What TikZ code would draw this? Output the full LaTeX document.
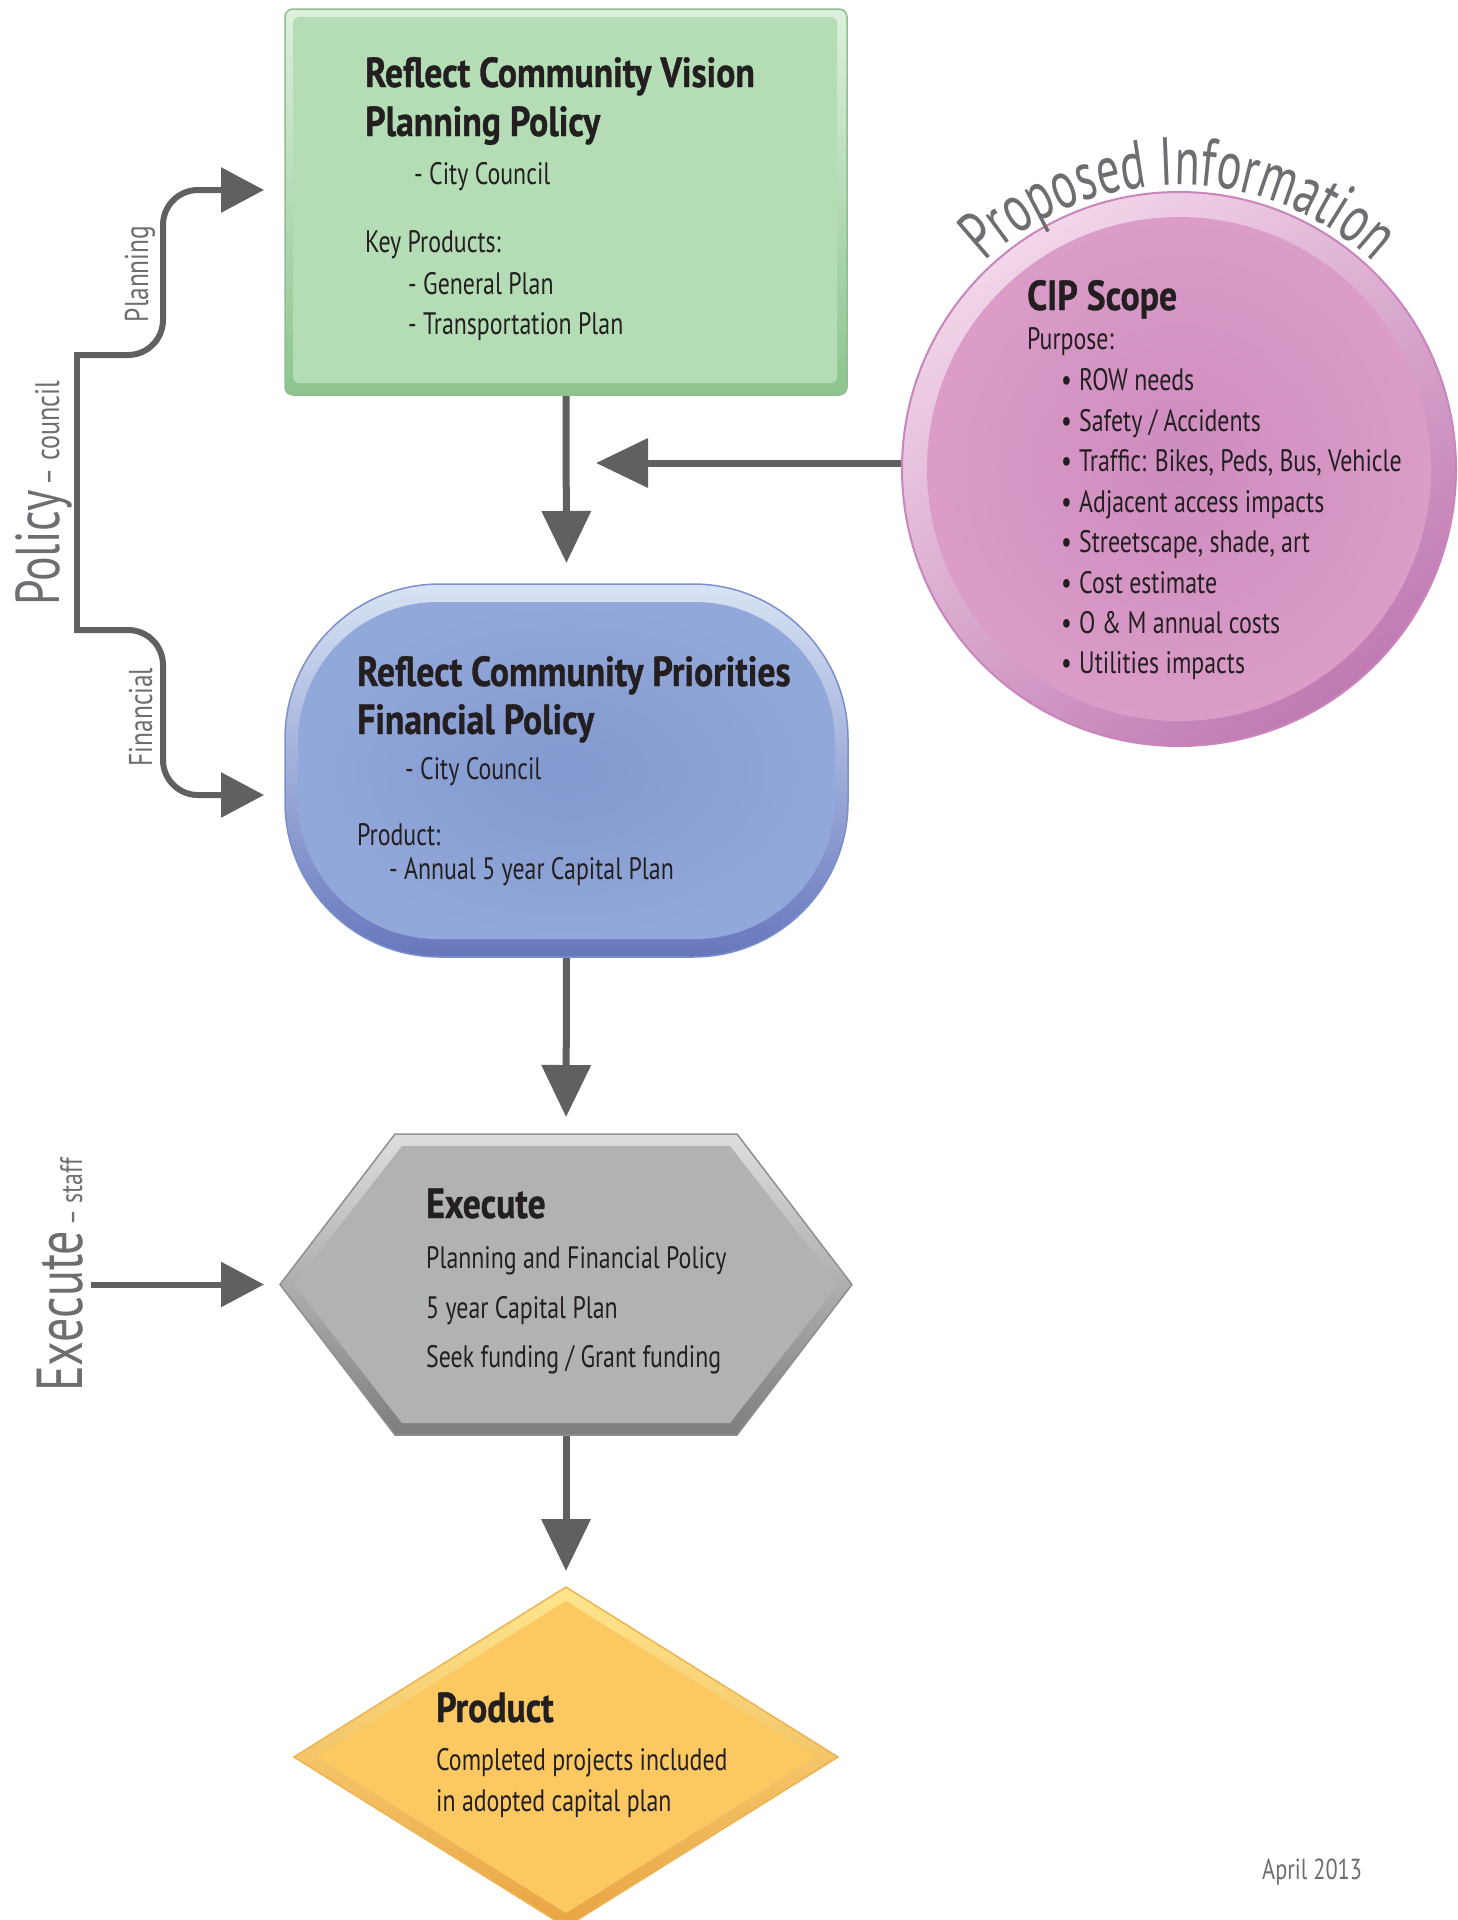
\documentclass[tikz,border=0pt]{standalone}
\usepackage{fontspec}
\setmainfont{PT Sans}[FakeStretch=0.77]
\newfontfamily\ttlfont{PT Sans Bold}[FakeStretch=0.85, FakeBold=0.8]
\newfontfamily\bigfont{PT Sans}[FakeStretch=0.74]
\newfontfamily\arcfont{PT Sans}[FakeStretch=0.68]
\usetikzlibrary{arrows.meta,calc,decorations.text}
\definecolor{txt}{HTML}{231F20}
\definecolor{graytxt}{HTML}{6D6E71}
\definecolor{arrowc}{HTML}{606062}
\definecolor{grfill}{HTML}{B4DCB5}
\definecolor{grlight}{HTML}{DDF0DD}
\definecolor{grdark}{HTML}{8CC48E}
\definecolor{grborder}{HTML}{8DC08F}
\definecolor{blfill}{HTML}{93A8DA}
\definecolor{blcenter}{HTML}{8299CF}
\definecolor{bllight}{HTML}{D8E3F4}
\definecolor{bldark}{HTML}{6677BD}
\definecolor{blborder}{HTML}{7C8FCC}
\definecolor{hxfill}{HTML}{B1B2B4}
\definecolor{hxlight}{HTML}{DEDEDF}
\definecolor{hxdark}{HTML}{7D7E80}
\definecolor{hxborder}{HTML}{8E8F91}
\definecolor{dmfill}{HTML}{FBC862}
\definecolor{dmlight}{HTML}{FEE68E}
\definecolor{dmdark}{HTML}{E9A443}
\definecolor{dmborder}{HTML}{EFB352}
\definecolor{pkfill}{HTML}{DB9CC8}
\definecolor{pkcenter}{HTML}{CE8CBF}
\definecolor{pklight}{HTML}{F2D6E9}
\definecolor{pkdark}{HTML}{C07AB2}
\definecolor{pkborder}{HTML}{C985BC}
\begin{document}
\begin{tikzpicture}[x=1pt,y=-1pt,
  holder/.style={rectangle, inner sep=0pt, outer sep=0pt, draw=none},
  body/.style={anchor=base west, inner sep=0pt, text=txt, font=\fontsize{31}{36}\selectfont},
  ttl/.style={anchor=base west, inner sep=0pt, text=txt, font=\ttlfont\fontsize{42}{46}\selectfont},
  conn/.style={draw=arrowc, line width=7pt, -{Triangle[length=52pt,width=48pt]}},
  brk/.style={draw=arrowc, line width=6pt, rounded corners=35pt, -{Triangle[length=43pt,width=44pt]}},
  sidelbl/.style={rotate=90, anchor=base, inner sep=0pt, text=graytxt, font=\fontsize{33}{33}\selectfont}
]
\useasboundingbox[fill=white] (0,0) rectangle (1458,1920);

% holders
\node[holder, minimum width=562pt, minimum height=386pt] (green) at (566,202) {};
\node[holder, minimum width=563pt, minimum height=373pt] (blue) at (566.5,770.5) {};
\node[holder, minimum width=572pt, minimum height=301pt] (hex) at (566,1284.5) {};
\node[holder, minimum width=544pt, minimum height=340pt] (prod) at (566,1757) {};
\node[circle, inner sep=0pt, outer sep=0pt, minimum size=554pt] (cip) at (1179,469) {};

% connectors
\coordinate (join) at (566,463);
\draw[conn, shorten >=21pt] (green.south) -- (blue.north);
\draw[conn, shorten >=30pt] (cip.west |- join) -- (join);
\draw[conn, shorten >=17pt] (blue.south) -- (hex.north);
\draw[conn, shorten >=16pt] (hex.south) -- (prod.north);

% policy bracket
\coordinate (ptop) at (77,355);
\coordinate (pbot) at (77,630);
\coordinate (pa) at (280,190);
\coordinate (pb) at (280,795);
\draw[draw=arrowc, line width=6pt, line cap=rect] (ptop) -- (pbot);
\draw[brk, shorten >=16pt] (ptop) -- (163,355) -- (163,190) -- (pa);
\draw[brk, shorten >=16pt] (pbot) -- (163,630) -- (163,795) -- (pb);
\coordinate (ex) at (91,1284.5);
\draw[brk, shorten >=16pt] (ex) -- (hex.west);

% green box
\path[draw=grborder, line width=1.5pt, top color=grlight, bottom color=grdark, rounded corners=8pt]
  (green.north west) rectangle (green.south east);
\fill[grfill, rounded corners=6pt] ($(green.north west)+(8pt,-8pt)$) rectangle ($(green.south east)+(-10pt,12pt)$);

% blue shape
\path[draw=blborder, line width=1.5pt, top color=bllight, bottom color=bldark, rounded corners=155pt]
  (blue.north west) rectangle (blue.south east);
\path[inner color=blcenter, outer color=blfill, rounded corners=140pt]
  ($(blue.north west)+(13pt,-18pt)$) rectangle ($(blue.south east)+(-13pt,18pt)$);

% hexagon
\path[draw=hxborder, line width=1.5pt, top color=hxlight, bottom color=hxdark]
  (280,1284.5) -- (395,1134) -- (737,1134) -- (852,1284.5) -- (737,1435) -- (395,1435) -- cycle;
\fill[hxfill] (294,1284.5) -- (402,1146) -- (730,1146) -- (838,1284.5) -- (730,1423) -- (402,1423) -- cycle;

% diamond
\path[draw=dmborder, line width=1.5pt, top color=dmlight, bottom color=dmdark]
  (566,1587) -- (838,1757) -- (566,1927) -- (294,1757) -- cycle;
\fill[dmfill] (566,1601) -- (816,1757) -- (566,1913) -- (316,1757) -- cycle;

% circle
\path[draw=pkborder, line width=2pt, top color=pklight, bottom color=pkdark, shading angle=35]
  (cip.center) circle[radius=277pt];
\path[inner color=pkcenter, outer color=pkfill] (cip.center) circle[radius=252pt];
\path[decorate, decoration={text along path, text align=center, text color=graytxt,
  text={|\arcfont\fontsize{68}{68}\selectfont|Proposed Information}}]
  ($(cip.center)+(140:284pt)$) arc[start angle=140, end angle=40, radius=284pt];

% texts green
\node[ttl] (g1) at (365,87) {Reflect Community Vision};
\node[ttl] (g2) at (365,136) {Planning Policy};
\node[body] (g3) at (414,184) {- City Council};
\node[body] (g4) at (365,252) {Key Products:};
\node[body] (g5) at (408,294) {- General Plan};
\node[body] (g6) at (408,334) {- Transportation Plan};

% texts blue
\node[ttl] (b1) at (357,686) {Reflect Community Priorities};
\node[ttl] (b2) at (357,734) {Financial Policy};
\node[body] (b3) at (405,779) {- City Council};
\node[body] (b4) at (357,845) {Product:};
\node[body] (b5) at (389,879) {- Annual 5 year Capital Plan};

% texts hexagon
\node[ttl] (h1) at (426,1218) {Execute};
\node[body] (h2) at (426,1268) {Planning and Financial Policy};
\node[body] (h3) at (426,1318) {5 year Capital Plan};
\node[body] (h4) at (426,1367) {Seek funding / Grant funding};

% texts diamond
\node[ttl] (d1) at (436,1722) {Product};
\node[body] (d2) at (436,1770) {Completed projects included};
\node[body] (d3) at (436,1811) {in adopted capital plan};

% texts circle
\node[ttl] (c1) at (1027,310) {CIP Scope};
\node[body] (c2) at (1027,349) {Purpose:};
\node[body] (cb1) at (1061,390) {•};
\node[body] (ct1) at (1079,390) {ROW needs};
\node[body] (cb2) at (1061,431) {•};
\node[body] (ct2) at (1079,431) {Safety / Accidents};
\node[body] (cb3) at (1061,471) {•};
\node[body] (ct3) at (1079,471) {Traffic: Bikes, Peds, Bus, Vehicle};
\node[body] (cb4) at (1061,512) {•};
\node[body] (ct4) at (1079,512) {Adjacent access impacts};
\node[body] (cb5) at (1061,552) {•};
\node[body] (ct5) at (1079,552) {Streetscape, shade, art};
\node[body] (cb6) at (1061,593) {•};
\node[body] (ct6) at (1079,593) {Cost estimate};
\node[body] (cb7) at (1061,633) {•};
\node[body] (ct7) at (1079,633) {O \& M annual costs};
\node[body] (cb8) at (1061,673) {•};
\node[body] (ct8) at (1079,673) {Utilities impacts};

% side labels
\node[sidelbl] (lplan) at (148,274) {Planning};
\node[sidelbl] (lfin) at (152,717) {Financial};
\node[rotate=90, anchor=base west, inner sep=0pt, text=graytxt] (lpol) at (59,606)
  {{\bigfont\fontsize{62}{62}\selectfont Policy}\hspace{5pt}{\fontsize{34}{34}\selectfont – council}};
\node[rotate=90, anchor=base west, inner sep=0pt, text=graytxt] (lexe) at (82,1392)
  {{\bigfont\fontsize{65}{65}\selectfont Execute}\hspace{5pt}{\fontsize{31}{31}\selectfont – staff}};

\node[anchor=base west, inner sep=0pt, text=graytxt, font=\fontsize{29}{32}\selectfont] (date) at (1262,1879) {April 2013};
\end{tikzpicture}
\end{document}
